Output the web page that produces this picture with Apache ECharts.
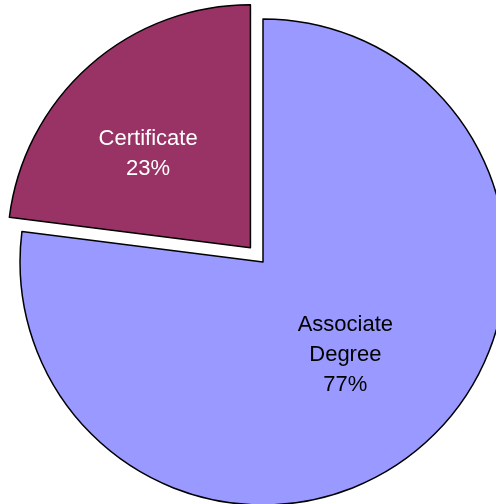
<!DOCTYPE html>
<html>
<head>
<meta charset="utf-8">
<script src="https://cdn.jsdelivr.net/npm/echarts@6/dist/echarts.min.js"></script>
<style>
  html, body { margin: 0; padding: 0; background: #fff; }
  #main { width: 496px; height: 504px; }
</style>
</head>
<body>
<div id="main"></div>
<script>
// categories and values
const categories = ['Associate Degree', 'Certificate']
const values = [77, 23]
const colors = ['#9999FF', '#993366']
const labelColors = ['#000000', '#ffffff']
const exploded = [false, true]

const pieData = categories.map((name, i) => ({
    name: name,
    value: values[i],
    selected: exploded[i],
    itemStyle: { color: colors[i] },
    label: {
        color: labelColors[i],
        // nudge the certificate label a little left/down, like the original
        padding: i === 1 ? [22, 40, 0, 0] : [0, 0, 4, 0]
    }
}))

const option = {
    animation: false,
    series: [
        {
            type: 'pie',
            center: [263, 262],
            radius: 243,
            startAngle: 90,
            clockwise: true,
            selectedMode: 'single',
            selectedOffset: 19,
            percentPrecision: 0,
            itemStyle: {
                borderColor: '#000',
                borderWidth: 1.5
            },
            label: {
                show: true,
                position: 'inner',
                fontFamily: 'Liberation Sans, Arial, sans-serif',
                fontSize: 22,
                lineHeight: 30,
                formatter: p => p.name.replace(' ', '\n') + '\n' + p.percent + '%'
            },
            labelLine: { show: false },
            emphasis: { disabled: true },
            data: pieData
        }
    ]
}

const myChart = echarts.init(document.getElementById('main'))
myChart.setOption(option)
</script>
</body>
</html>
